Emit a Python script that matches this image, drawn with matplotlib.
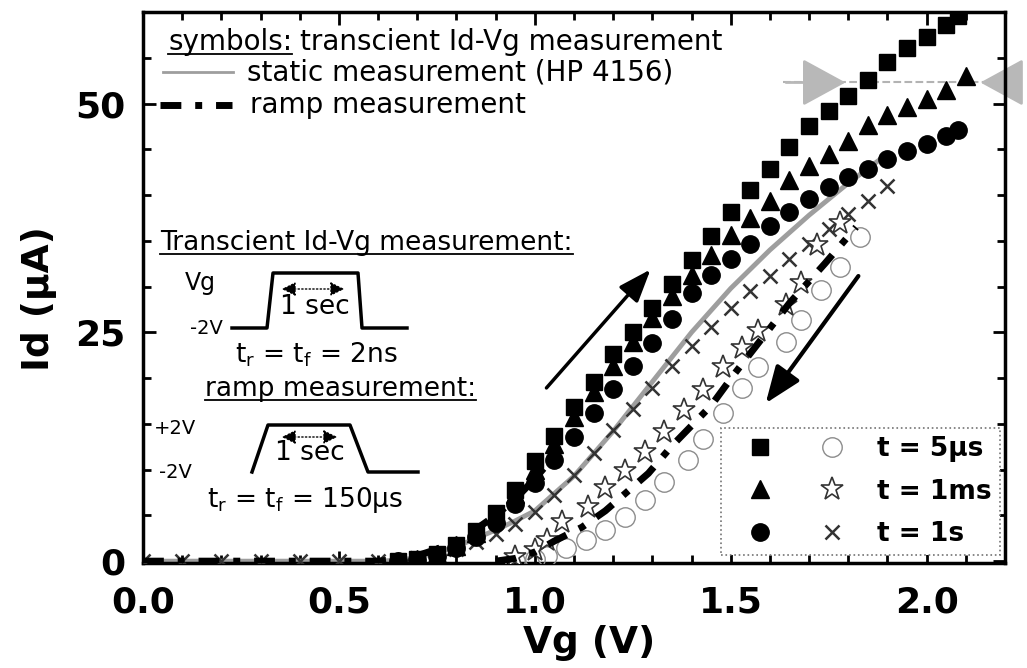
import numpy as np
import matplotlib
matplotlib.use('Agg')
import matplotlib.pyplot as plt
from matplotlib.legend_handler import HandlerTuple

plt.rcParams['font.family'] = ['DejaVu Sans']

# ---- data (Vg in V, Id in uA) ----
# up sweep, filled symbols
sq_v = [0.65, 0.70, 0.75, 0.80, 0.85, 0.90, 0.95, 1.00, 1.05, 1.10, 1.15, 1.20, 1.25, 1.30, 1.35, 1.40,
        1.45, 1.50, 1.55, 1.60, 1.65, 1.70, 1.75, 1.80, 1.85, 1.90, 1.95, 2.00, 2.05, 2.08]
sq_i = [0.0, 0.2, 0.8, 1.8, 3.3, 5.3, 7.8, 10.9, 13.7, 16.8, 19.6, 22.6, 25.0, 27.7, 30.3, 32.9,
        35.5, 38.2, 40.6, 42.9, 45.3, 47.5, 49.2, 50.8, 52.6, 54.5, 56.1, 57.3, 58.6, 59.6]

tri_v = [0.65, 0.70, 0.75, 0.80, 0.85, 0.90, 0.95, 1.00, 1.05, 1.10, 1.15, 1.20, 1.25, 1.30, 1.35, 1.40,
         1.45, 1.50, 1.55, 1.60, 1.65, 1.70, 1.75, 1.80, 1.85, 1.90, 1.95, 2.00, 2.05, 2.10]
tri_i = [0.0, 0.2, 0.8, 1.7, 3.1, 5.0, 7.3, 10.0, 12.8, 15.7, 18.5, 21.3, 24.0, 26.6, 29.0, 31.3,
         33.5, 35.6, 37.5, 39.4, 41.6, 43.2, 44.5, 45.9, 47.6, 48.8, 49.6, 50.5, 51.5, 53.0]

cir_v = [0.65, 0.70, 0.75, 0.80, 0.85, 0.90, 0.95, 1.00, 1.05, 1.10, 1.15, 1.20, 1.25, 1.30, 1.35, 1.40,
         1.45, 1.50, 1.55, 1.60, 1.65, 1.70, 1.75, 1.80, 1.85, 1.90, 1.95, 2.00, 2.05, 2.08]
cir_i = [0.0, 0.1, 0.6, 1.4, 2.6, 4.2, 6.2, 8.5, 11.0, 13.6, 16.2, 18.8, 21.3, 23.8, 26.5, 29.3,
         31.3, 33.0, 34.6, 36.6, 38.2, 39.6, 40.9, 42.0, 42.9, 43.9, 44.8, 45.6, 46.4, 47.1]

# down sweep, open symbols
oc_v = [0.95, 1.00, 1.03, 1.08, 1.13, 1.18, 1.23, 1.28, 1.33, 1.39, 1.43, 1.48, 1.53, 1.57,
        1.64, 1.68, 1.73, 1.78, 1.83]
oc_i = [0.0, 0.2, 0.6, 1.4, 2.3, 3.4, 4.8, 6.7, 8.6, 11.1, 13.4, 16.2, 18.9, 21.2,
        23.9, 26.3, 29.6, 32.1, 35.4]

st_v = [0.95, 1.00, 1.03, 1.07, 1.135, 1.18, 1.23, 1.28, 1.33, 1.38, 1.43, 1.48, 1.53, 1.57,
        1.64, 1.68, 1.72, 1.78]
st_i = [0.5, 1.2, 2.3, 4.3, 5.9, 8.0, 9.9, 11.9, 14.1, 16.5, 18.7, 21.2, 23.3, 25.2,
        28.0, 30.4, 34.5, 37.0]

x_v = [0.0, 0.1, 0.2, 0.3, 0.4, 0.5, 0.6, 0.7, 0.75, 0.8, 0.85, 0.9, 0.95, 1.0, 1.05, 1.1, 1.15, 1.2,
       1.25, 1.3, 1.35, 1.4, 1.45, 1.5, 1.55, 1.6, 1.65, 1.7, 1.75, 1.8, 1.85, 1.9]
x_i = [0, 0, 0, 0, 0, 0, 0, 0.3, 0.7, 1.3, 2.1, 3.0, 4.1, 5.4, 7.2, 9.4, 11.8, 14.3,
       16.6, 18.9, 21.3, 23.5, 25.6, 27.7, 29.5, 31.2, 33.0, 34.7, 36.3, 37.9, 39.4, 41.0]

# static (HP 4156) and ramp measurements
static_v = [0.0, 0.6, 0.65, 0.7, 0.75, 0.8, 0.85, 0.9, 0.95, 1.0, 1.1, 1.2, 1.3, 1.4, 1.5, 1.6, 1.7, 1.8, 1.9]
static_i = [0.0, 0.0, 0.1, 0.4, 0.9, 1.6, 2.5, 3.4, 4.4, 5.5, 9.3, 14.2, 19.6, 25.0, 29.8, 34.0, 37.8, 41.3, 44.5]

rampup_v = [0.0, 0.6, 0.65, 0.7, 0.75, 0.8, 0.85, 0.9, 0.95, 1.0, 1.05]
rampup_i = [0.0, 0.0, 0.2, 0.6, 1.3, 2.3, 3.5, 5.0, 6.8, 9.0, 11.5]

rampdn_v = [0.9, 0.95, 1.0, 1.05, 1.12, 1.18, 1.29, 1.35, 1.45, 1.51, 1.65, 1.74, 1.82]
rampdn_i = [0.0, 0.3, 1.0, 2.2, 3.7, 5.5, 9.6, 12.6, 17.0, 20.5, 28.2, 32.5, 36.5]

# saturation marker (gray arrows) and sweep-direction arrows
sat_level = 52.3
sat_v = [1.634, 1.80, 2.2, 2.13]
up_arrow = [(1.025, 18.7), (1.30, 32.1)]
dn_arrow = [(1.83, 31.4), (1.585, 17.0)]

labels = ['t = 5\u00b5s', 't = 1ms', 't = 1s']

# ---- figure ----
W, H = 1027, 668
fig = plt.figure(figsize=(W / 100, H / 100), dpi=100)
ax = fig.add_axes([143 / W, 1 - 563 / H, (1005 - 143) / W, (563 - 12) / H])

gray = '0.62'
ax.plot(static_v, static_i, color=gray, lw=3.5, zorder=2)
hx, = ax.plot(x_v, x_i, ls='none', marker='x', ms=10, mew=1.8, color='0.2', zorder=3)
hoc, = ax.plot(oc_v, oc_i, ls='none', marker='o', ms=14, mfc='none', mec='0.55', mew=1.0, zorder=3)
hst, = ax.plot(st_v, st_i, ls='none', marker='*', ms=17, mfc='white', mec='0.2', mew=1.2, zorder=3)
ax.plot(rampdn_v, rampdn_i, color='k', lw=5, dashes=(3, 2, 1, 2), zorder=4)
ax.plot(rampup_v, rampup_i, color='k', lw=5, dashes=(3, 2, 1, 2), zorder=4)
hcir, = ax.plot(cir_v, cir_i, ls='none', marker='o', ms=12.5, color='k', zorder=5)
htri, = ax.plot(tri_v, tri_i, ls='none', marker='^', ms=13.5, color='k', zorder=5)
hsq, = ax.plot(sq_v, sq_i, ls='none', marker='s', ms=12, color='k', zorder=5)

# gray arrows at the saturation level
ax.plot([sat_v[0], sat_v[2]], [sat_level, sat_level], color='0.7', lw=1.5, ls='--', zorder=2)
for tail, tip in [(sat_v[0], sat_v[1]), (sat_v[2], sat_v[3])]:
    ax.annotate('', xy=(tip, sat_level), xytext=(tail, sat_level),
                arrowprops=dict(arrowstyle='-|>,head_length=1.1,head_width=0.6', color='0.72', lw=2,
                                mutation_scale=25), zorder=2)

# sweep direction arrows
ax.annotate('', xy=up_arrow[1], xytext=up_arrow[0],
            arrowprops=dict(arrowstyle='-|>,head_length=0.8,head_width=0.3', color='k', lw=2.5,
                            mutation_scale=25))
ax.annotate('', xy=dn_arrow[1], xytext=dn_arrow[0],
            arrowprops=dict(arrowstyle='-|>,head_length=0.9,head_width=0.35', color='k', lw=3,
                            mutation_scale=25))

ax.set_xlim(0, 2.2)
ax.set_ylim(-0.2, 60)
ax.set_xticks([0, 0.5, 1.0, 1.5, 2.0])
ax.set_xticklabels(['0.0', '0.5', '1.0', '1.5', '2.0'])
ax.set_xticks(np.arange(0, 2.21, 0.1), minor=True)
ax.set_yticks([0, 25, 50])
ax.set_yticks(np.arange(0, 60.1, 5), minor=True)
for s in ax.spines.values():
    s.set_linewidth(2.5)
ax.tick_params(which='both', direction='in', top=True, right=True, width=2, labelsize=26)
ax.tick_params(which='major', length=9)
ax.tick_params(which='minor', length=6)
ax.tick_params(axis='x', pad=16)
ax.tick_params(axis='y', pad=13)
for t in ax.get_xticklabels() + ax.get_yticklabels():
    t.set_fontweight('bold')
ax.set_xlabel('Vg (V)', fontsize=27, fontweight='bold')
ax.set_ylabel('Id (\u00b5A)', fontsize=27, fontweight='bold')
ax.xaxis.set_label_coords(0.517, -0.112)
ax.yaxis.set_label_coords(-0.10, 0.48)

leg = ax.legend([(hsq, hoc), (htri, hst), (hcir, hx)], labels,
                handler_map={tuple: HandlerTuple(ndivide=None, pad=0.42)},
                loc='lower right', bbox_to_anchor=(0.994, 0.0145), borderaxespad=0,
                prop={'weight': 'bold', 'size': 19}, handlelength=5.1, handletextpad=0.53,
                labelspacing=0.62, borderpad=0.3, fancybox=False, framealpha=1)
leg.get_frame().set_linestyle(':')
leg.get_frame().set_edgecolor('0.45')
leg.get_frame().set_linewidth(1.2)

# ---- overlay in pixel coordinates for the notes and the pulse sketches ----
ov = fig.add_axes([0, 0, 1, 1])
ov.set_xlim(0, W)
ov.set_ylim(H, 0)
ov.axis('off')
ov.patch.set_alpha(0)

fs = 20
t_sym = ov.text(168, 42, 'symbols:', fontsize=fs, va='center')
ov.plot([163, 233], [72, 72], color=gray, lw=2)
ov.text(247, 72, 'static measurement (HP 4156)', fontsize=fs, va='center')
ov.plot([160, 232], [105, 105], color='k', lw=5, dashes=(3, 2, 1, 2))
ov.text(250, 105, 'ramp measurement', fontsize=fs, va='center')

t_tr = ov.text(160, 243, 'Transcient Id-Vg measurement:', fontsize=19, va='center')
ov.text(200, 283, 'Vg', fontsize=17, va='center', ha='center')
ov.text(206, 328, '-2V', fontsize=14, va='center', ha='center')
ov.plot([232, 267, 273, 358, 362, 407], [328, 328, 273, 273, 328, 328], color='k', lw=2.5)
ov.annotate('', xy=(347, 289), xytext=(279, 289),
            arrowprops=dict(arrowstyle='<|-|>,head_length=0.6,head_width=0.3', color='k', lw=1,
                            ls=':', mutation_scale=14))
ov.text(315, 307, '1 sec', fontsize=19, va='center', ha='center')
ov.text(316, 355, 't$_\\mathregular{r}$ = t$_\\mathregular{f}$ = 2ns', fontsize=19, va='center', ha='center')

t_rm = ov.text(205, 389, 'ramp measurement:', fontsize=19, va='center')
ov.text(175, 429, '+2V', fontsize=14, va='center', ha='center')
ov.text(175, 472, '-2V', fontsize=14, va='center', ha='center')
ov.plot([252, 268, 350, 368, 418], [472, 425, 425, 472, 472], color='k', lw=2.5)
ov.annotate('', xy=(340, 437), xytext=(279, 437),
            arrowprops=dict(arrowstyle='<|-|>,head_length=0.6,head_width=0.3', color='k', lw=1,
                            ls=':', mutation_scale=14))
ov.text(310, 453, '1 sec', fontsize=19, va='center', ha='center')
ov.text(305, 500, 't$_\\mathregular{r}$ = t$_\\mathregular{f}$ = 150\u00b5s', fontsize=19, va='center',
        ha='center')

fig.canvas.draw()
r = fig.canvas.get_renderer()
inv = ov.transData.inverted()


def underline(t):
    bb = t.get_window_extent(r)
    (x0, yb), (x1, yt) = inv.transform([[bb.x0, bb.y0], [bb.x1, bb.y1]])
    ov.plot([x0, x1], [yb - 2, yb - 2], color='k', lw=1.3)
    return x1


xe = underline(t_sym)
ov.text(xe + 8, 42, 'transcient Id-Vg measurement', fontsize=fs, va='center')
underline(t_tr)
underline(t_rm)

fig.savefig('out.png', dpi=100)
